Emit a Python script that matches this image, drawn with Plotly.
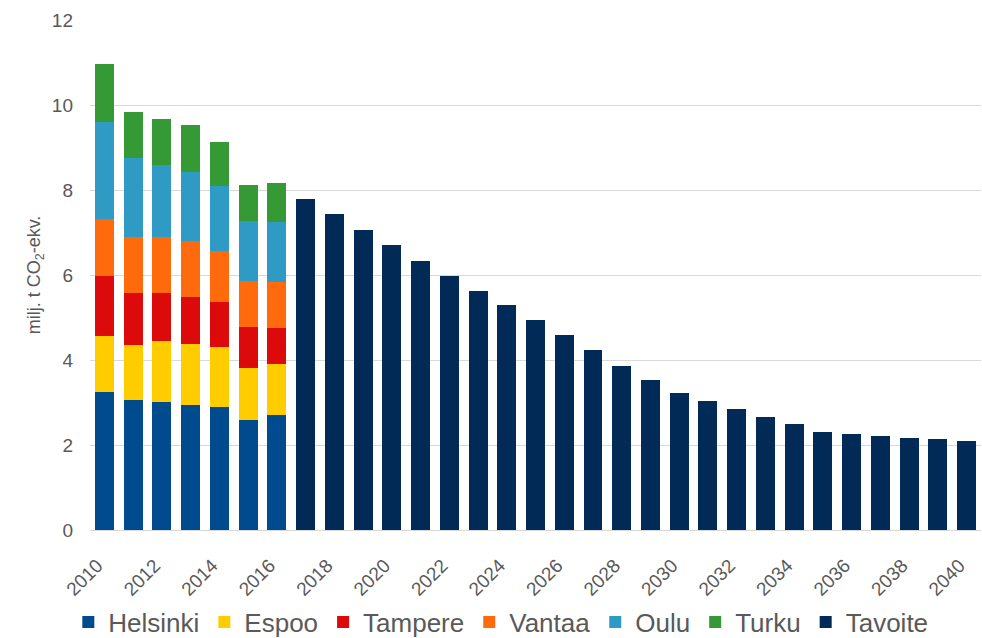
import plotly.graph_objects as go

years_hist = [2010, 2011, 2012, 2013, 2014, 2015, 2016]
helsinki = [3.25, 3.07, 3.02, 2.94, 2.89, 2.58, 2.70]
espoo = [1.32, 1.28, 1.43, 1.43, 1.41, 1.24, 1.20]
tampere = [1.41, 1.22, 1.13, 1.12, 1.07, 0.96, 0.86]
vantaa = [1.33, 1.32, 1.32, 1.31, 1.19, 1.08, 1.08]
oulu = [2.28, 1.87, 1.69, 1.62, 1.53, 1.41, 1.41]
turku = [1.37, 1.08, 1.09, 1.10, 1.04, 0.85, 0.92]

years_target = list(range(2017, 2041))
tavoite = [7.80, 7.44, 7.07, 6.70, 6.34, 5.98, 5.63, 5.29, 4.93, 4.58, 4.23, 3.87,
           3.53, 3.22, 3.04, 2.85, 2.67, 2.49, 2.31, 2.26, 2.21, 2.16, 2.13, 2.09]

tick_years = list(range(2010, 2041, 2))
tick_labels = [str(y) for y in tick_years]
y_ticks = [0, 2, 4, 6, 8, 10, 12]

series = [
    ("Helsinki", helsinki, "#004B8D"),
    ("Espoo", espoo, "#FFCC00"),
    ("Tampere", tampere, "#DC0A0A"),
    ("Vantaa", vantaa, "#FF6A0D"),
    ("Oulu", oulu, "#2F9AC4"),
    ("Turku", turku, "#359A35"),
]

fig = go.Figure()
for name, vals, col in series:
    fig.add_trace(go.Bar(x=years_hist, y=vals, name=name, marker_color=col,
                         marker_line_width=0))
fig.add_trace(go.Bar(x=years_target, y=tavoite, name="Tavoite", marker_color="#022A56",
                     marker_line_width=0))

fig.update_layout(
    barmode="stack",
    bargap=0.34,
    width=982, height=638,
    margin=dict(l=90, r=1, t=20, b=108, autoexpand=False),
    plot_bgcolor="white", paper_bgcolor="white",
    font=dict(family="Liberation Sans, Arial, sans-serif", color="#595959"),
    showlegend=True,
    legend=dict(orientation="h", x=0.51, xref="container", xanchor="center",
                y=0.025, yref="container", yanchor="middle",
                font=dict(size=26, color="#595959"), traceorder="normal",
                itemwidth=30, tracegroupgap=0),
    xaxis=dict(range=[2009.5, 2040.5], tickmode="array", tickvals=tick_years,
               ticktext=tick_labels, tickangle=-45, tickfont=dict(size=19),
               showgrid=False, showline=True, linecolor="#D9D9D9", linewidth=1,
               ticks="", zeroline=False, ticklabelstandoff=16, ticklabelshift=-7,
               automargin=False),
    yaxis=dict(range=[0, 12], tickmode="array", tickvals=y_ticks,
               tickfont=dict(size=19), showgrid=True, gridcolor="#D9D9D9",
               gridwidth=1, zeroline=False, showline=False, ticks="",
               ticklabelstandoff=16, automargin=False,
               title=dict(text="milj. t CO<sub>2</sub>-ekv.", font=dict(size=18),
                          standoff=6)),
)

fig.write_html("out.html")
